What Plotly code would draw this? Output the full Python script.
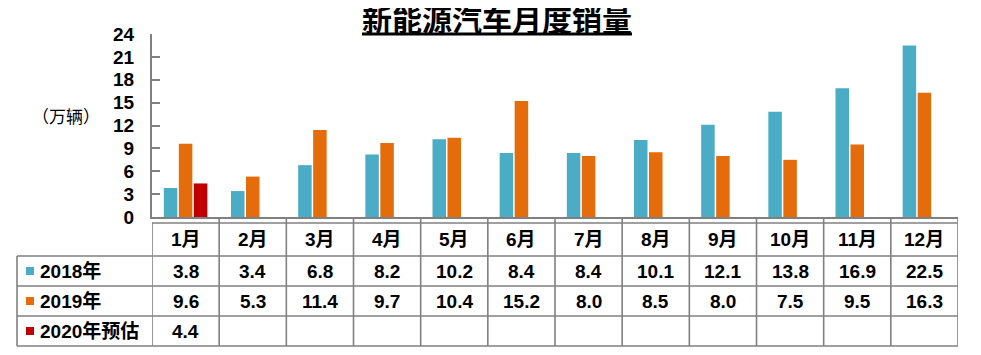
import plotly.graph_objects as go

months = ["1月", "2月", "3月", "4月", "5月", "6月", "7月", "8月", "9月", "10月", "11月", "12月"]
s2018 = [3.8, 3.4, 6.8, 8.2, 10.2, 8.4, 8.4, 10.1, 12.1, 13.8, 16.9, 22.5]
s2019 = [9.6, 5.3, 11.4, 9.7, 10.4, 15.2, 8.0, 8.5, 8.0, 7.5, 9.5, 16.3]
s2020 = [4.4, None, None, None, None, None, None, None, None, None, None, None]
series_names = ["2018年", "2019年", "2020年预估"]
y_ticks = [0, 3, 6, 9, 12, 15, 18, 21, 24]

colors = ["#4BACC6", "#E46C0A", "#C00000"]
O = 8  # page body margin offset
W, H = 981 - 2 * O, 355 - 2 * O
# reference-pixel layout
L_ref, R_ref, T_ref, B_ref = 152, 958, 34, 217
L, T = L_ref - O, T_ref - O
R = W - (R_ref - O)
B = H - (B_ref - O)
PW, PH = W - L - R, H - T - B
FONT = "Liberation Sans, Arial, Noto Sans CJK SC, sans-serif"
GRID = "#808080"

def px_x(p):
    return (p - O - L) / PW

def px_y(p):
    return (B_ref - p) / PH

fig = go.Figure()
for name, vals, c in zip(series_names, [s2018, s2019, s2020], colors):
    fig.add_trace(go.Bar(x=months, y=vals, name=name, marker_color=c,
                         marker_line_width=0, showlegend=False))

fig.update_layout(
    template="none",
    width=W, height=H,
    margin=dict(l=L, r=R, t=T, b=B, autoexpand=False),
    plot_bgcolor="white", paper_bgcolor="white",
    barmode="group", bargap=0.33, bargroupgap=0.1,
    font=dict(family=FONT, color="black"),
    title=dict(text="<b><u>新能源汽车月度销量</u></b>", x=(497 - O) / W, xanchor="center",
               y=1 - (20 - O) / H, yanchor="middle", automargin=False,
               font=dict(size=30, family="Noto Sans CJK SC", color="black")),
)
fig.update_xaxes(range=[-0.5, 11.5], showticklabels=False, showline=True, automargin=False,
                 linecolor=GRID, linewidth=2, ticks="", showgrid=False, zeroline=False)
fig.update_yaxes(range=[0, 24], tickvals=y_ticks, showline=True, linecolor=GRID, linewidth=2,
                 automargin=False,
                 ticks="inside", ticklen=8, tickcolor=GRID, tickwidth=2, showgrid=False,
                 zeroline=False, ticklabelstandoff=12,
                 tickfont=dict(size=19, family=FONT, color="black", weight="bold"))

# unit label
fig.add_annotation(text="（万辆）", xref="paper", yref="paper", x=px_x(66), xanchor="center",
                   y=px_y(115), yanchor="middle",
                   showarrow=False, font=dict(size=17, family="Noto Sans CJK SC", color="black"))

# table lines
row_lines = [223, 256, 286, 316, 346]
left_edge = 17
for i, yy in enumerate(row_lines):
    x0 = px_x(L_ref) if i == 0 else px_x(left_edge)
    fig.add_shape(type="line", xref="paper", yref="paper", x0=x0, x1=1, y0=px_y(yy), y1=px_y(yy),
                  line=dict(color=GRID, width=1.6))
for k in range(len(months) + 1):
    top = 223 if k == 0 else 217
    fig.add_shape(type="line", xref="x", yref="paper", x0=k - 0.5, x1=k - 0.5,
                  y0=px_y(top), y1=px_y(346), line=dict(color=GRID, width=1.6))
fig.add_shape(type="line", xref="paper", yref="paper", x0=px_x(left_edge), x1=px_x(left_edge),
              y0=px_y(256), y1=px_y(346), line=dict(color=GRID, width=1.6))

tfont = dict(size=19, family=FONT, color="black", weight="bold")
row_centers = [240, 271, 301, 331]
for m in months:
    fig.add_annotation(text=m, x=m, xref="x", xanchor="center", yref="paper",
                       y=px_y(row_centers[0]), yanchor="middle", showarrow=False, font=tfont)
for r, vals in enumerate([s2018, s2019, s2020]):
    for m, v in zip(months, vals):
        if v is None:
            continue
        fig.add_annotation(text=f"{v:.1f}", x=m, xref="x", xanchor="center", yref="paper",
                           y=px_y(row_centers[r + 1]), yanchor="middle", showarrow=False, font=tfont)
    yc = row_centers[r + 1]
    fig.add_shape(type="rect", xref="paper", yref="paper", x0=px_x(26), x1=px_x(34),
                  y0=px_y(yc + 4), y1=px_y(yc - 4), fillcolor=colors[r], line_width=0)
    fig.add_annotation(text=series_names[r], xref="paper", yref="paper", x=px_x(38), xanchor="left",
                       y=px_y(yc), yanchor="middle", showarrow=False, font=tfont)

fig.write_html("out.html")
